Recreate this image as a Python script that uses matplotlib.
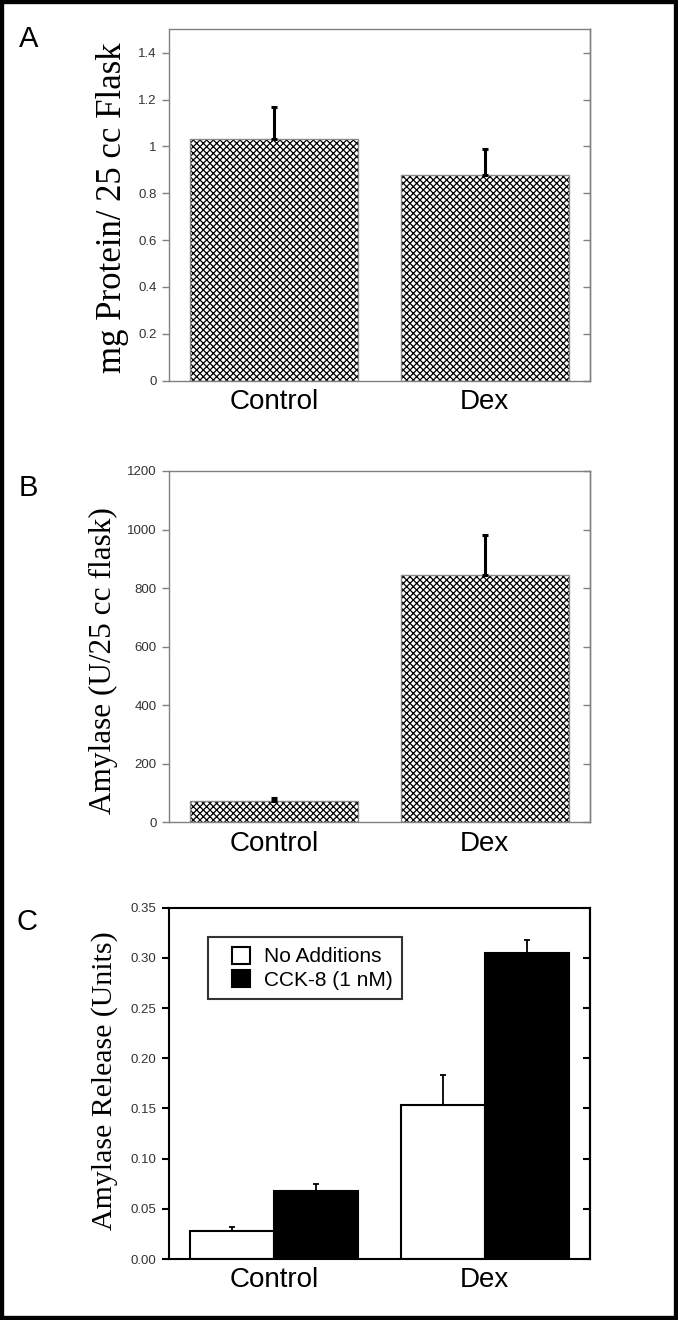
import numpy as np
import matplotlib; matplotlib.use('Agg')
import matplotlib.pyplot as plt
from matplotlib.patches import Rectangle
from matplotlib.legend_handler import HandlerPatch

plt.rcParams['font.family'] = ['Liberation Sans', 'DejaVu Sans']
plt.rcParams['hatch.linewidth'] = 0.9

# --- data ---
groups = ['Control', 'Dex']
protein = [1.03, 0.88]
protein_err = [0.14, 0.11]
amylase = [74, 845]
amylase_err = [10, 138]
release_none = [0.0275, 0.153]
release_none_err = [0.004, 0.030]
release_cck = [0.068, 0.305]
release_cck_err = [0.007, 0.0125]

fig = plt.figure(figsize=(6.78, 13.2), dpi=100)
L, W, H = 0.2493, 0.6210, 0.2662
axA = fig.add_axes([L, 0.7116, W, H])
axB = fig.add_axes([L, 0.3770, W, H])
axC = fig.add_axes([L, 0.0462, W, H])
x = np.arange(len(groups))
serif = ['Liberation Serif', 'DejaVu Serif']


def style(ax, col, lw, ticks, fmt):
    for s in ax.spines.values():
        s.set_color(col); s.set_linewidth(lw)
    ax.set_xlim(-0.5, 1.5)
    ax.set_xticks(x)
    ax.set_xticklabels(groups, fontsize=20)
    ax.tick_params(axis='x', length=0, pad=6)
    ax.set_yticks(ticks)
    ax.set_yticklabels([fmt(t) for t in ticks], fontsize=9.5, color='#333333')
    ax.tick_params(axis='y', direction='out', length=5, width=lw, color=col, pad=4)
    sec = ax.secondary_yaxis('right')
    sec.set_yticks(ticks)
    sec.tick_params(direction='in', length=5, width=lw, color=col, labelright=False)
    sec.spines['right'].set_color(col); sec.spines['right'].set_linewidth(lw)


def hatched(ax, vals, errs):
    ax.bar(x, vals, 0.8, color='white', edgecolor='black', hatch='xxxxx', linewidth=0)
    ax.bar(x, vals, 0.8, fill=False, edgecolor='#8a8a8a', linewidth=1)
    ax.errorbar(x, vals, yerr=[np.zeros(len(vals)), errs], fmt='none', ecolor='black',
                elinewidth=2.2, capsize=2.5, capthick=2.2, zorder=5)


def gnum(t):
    return ('%g' % t)


def square(legend, orig_handle, xdescent, ydescent, width, height, fontsize):
    s = 13.5  # points
    return Rectangle((width - s - xdescent, (height - s * 0.9) / 2 - ydescent), s, s * 0.9)


# panel A
hatched(axA, protein, protein_err)
axA.set_ylim(0, 1.5)
style(axA, '#808080', 1.0, [0, 0.2, 0.4, 0.6, 0.8, 1.0, 1.2, 1.4], gnum)
axA.set_ylabel('mg Protein/ 25 cc Flask', fontsize=25, family=serif, ha='center', va='center')
axA.yaxis.set_label_coords(-0.1345, 0.4915)

# panel B
hatched(axB, amylase, amylase_err)
axB.set_ylim(0, 1200)
style(axB, '#808080', 1.0, [0, 200, 400, 600, 800, 1000, 1200], gnum)
axB.set_ylabel('Amylase (U/25 cc flask)', fontsize=22.5, family=serif, ha='center', va='center')
axB.yaxis.set_label_coords(-0.155, 0.46)

# panel C
bw = 0.4
bn = axC.bar(x - bw / 2, release_none, bw, color='white', edgecolor='black', linewidth=1.5)
bc = axC.bar(x + bw / 2, release_cck, bw, color='black', edgecolor='black', linewidth=1.5)
axC.errorbar(x - bw / 2, release_none, yerr=[[0, 0], release_none_err], fmt='none',
             ecolor='black', elinewidth=1.3, capsize=2.5, capthick=1.3, zorder=5)
axC.errorbar(x + bw / 2, release_cck, yerr=[[0, 0], release_cck_err], fmt='none',
             ecolor='black', elinewidth=1.3, capsize=2.5, capthick=1.3, zorder=5)
axC.set_ylim(0, 0.35)
style(axC, 'black', 1.5, np.arange(0, 0.351, 0.05), lambda t: '%.2f' % t)
axC.set_ylabel('Amylase Release (Units)', fontsize=21.5, family=serif, ha='center', va='center')
axC.yaxis.set_label_coords(-0.152, 0.509)
leg = axC.legend([bn[0], bc[0]], ['No Additions', 'CCK-8 (1 nM)'],
                 loc='upper left', bbox_to_anchor=(0.092, 0.915), borderaxespad=0,
                 fontsize=15, fancybox=False, handlelength=1.6, handleheight=0.85,
                 handletextpad=0.65, labelspacing=0.2, borderpad=0.45,
                 handler_map={Rectangle: HandlerPatch(patch_func=square)})
leg.get_frame().set_edgecolor('black')
leg.get_frame().set_linewidth(1.5)

# panel letters
for lab, (px, py) in zip('ABC', [(29, 39), (28, 488), (27, 922)]):
    fig.text(px / 678, 1 - py / 1320, lab, fontsize=21, ha='center', va='center')

# outer frame
fig.patches.append(Rectangle((0, 0), 1, 1, transform=fig.transFigure, fill=False,
                             edgecolor='black', linewidth=6))

fig.savefig('out.png', dpi=100)
